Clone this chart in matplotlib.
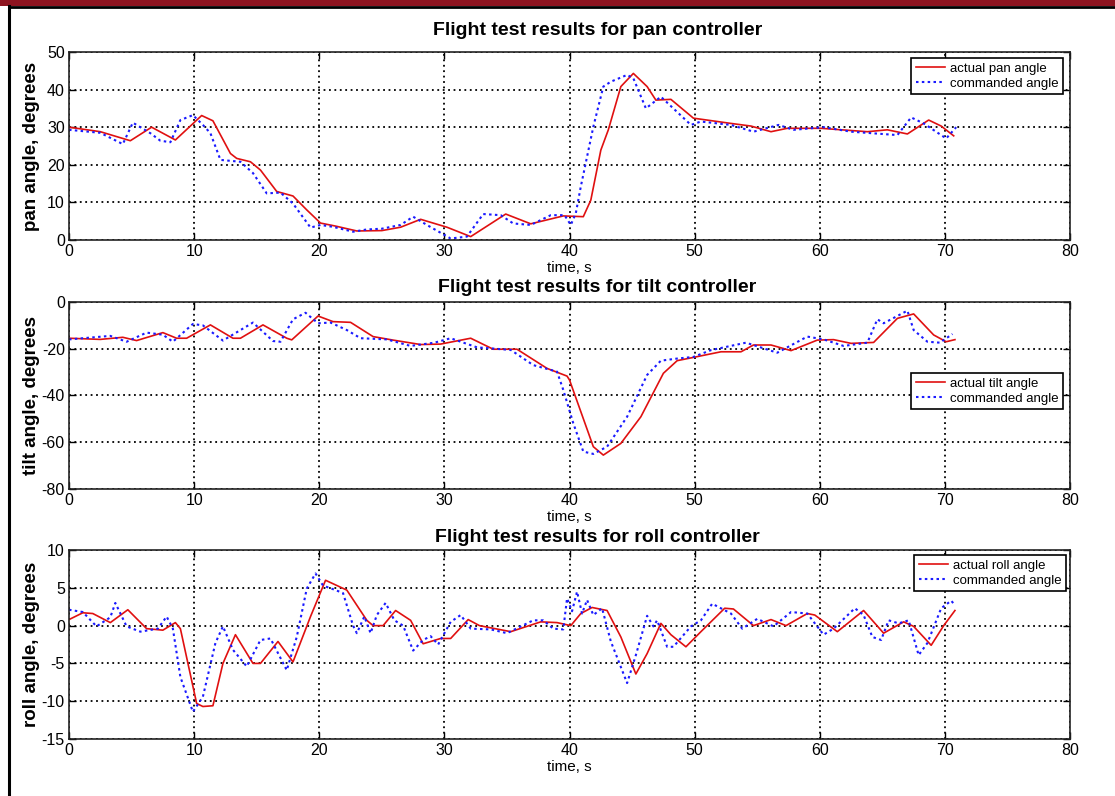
import numpy as np
import matplotlib
matplotlib.use("Agg")
import matplotlib.pyplot as plt
from matplotlib.lines import Line2D
from matplotlib.patches import Rectangle

plt.rcParams["font.family"] = ["Liberation Sans", "DejaVu Sans"]
plt.rcParams["axes.unicode_minus"] = False

# pan controller (time in s, angle in degrees)
pan_act_t = [0, 2.5, 4.9, 6.6, 8.5, 10.6, 11.5, 12.9, 13.4, 14.5, 15.3, 16.6, 17.9,
             19.0, 20.1, 21.3, 23.0, 25.0, 26.5, 28.1, 30.2, 32.1, 34.9, 36.9, 39.5,
             41.1, 41.7, 42.5, 43.1, 44.1, 45.1, 46.2, 46.9, 48.1, 49.9, 52.9, 54.5,
             56.1, 57.4, 60.1, 63.8, 65.4, 67.0, 68.7, 69.7, 70.7]
pan_act = [30, 28.8, 26.4, 30, 26.6, 33.1, 31.7, 23, 21.7, 20.8, 18.6, 12.9, 11.7,
           8, 4.5, 3.7, 2.4, 2.5, 3.4, 5.5, 3.4, 0.9, 6.9, 4.3, 6.4,
           6.2, 10.6, 23.9, 29.3, 40.8, 44.3, 40.8, 37.2, 37.4, 32.4, 31.0, 30.3,
           28.8, 29.7, 29.7, 28.8, 29.3, 28.2, 31.9, 30.3, 27.7]
pan_cmd_t = [0, 2.5, 4.3, 5.1, 6.5, 7.3, 8.1, 8.9, 9.9, 10.7, 11.3, 12.1, 13.7, 14.7,
             15.8, 16.9, 17.9, 19.3, 20.1, 21.1, 22.7, 23.8, 25.0, 26.5, 27.5, 28.6,
             30.5, 31.8, 33.1, 34.5, 35.5, 36.9, 38.5, 39.6, 40.1, 40.5, 40.9, 41.9,
             42.7, 43.3, 44.6, 45.1, 46.1, 47.3, 49.7, 50.5, 52.9, 54.7, 56.7, 57.9,
             60.3, 62.5, 66.2, 67.3, 68.3, 70.1, 70.9]
pan_cmd = [29.3, 28.5, 25.5, 31.2, 28.4, 26.4, 26.0, 31.9, 33.2, 30.6, 28.4, 21.3, 20.8,
           17.8, 12.4, 12.6, 9.7, 3.3, 4.0, 3.5, 2.2, 2.8, 3.0, 4.0, 6.2, 4.0,
           0.4, 0.9, 6.9, 6.6, 4.4, 4.0, 6.6, 6.6, 4.0, 7.1, 14.2, 30.1,
           40.8, 42.1, 43.9, 43.0, 35.0, 38.1, 30.6, 31.5, 30.6, 28.8, 30.6, 29.3,
           30.0, 28.8, 27.9, 32.6, 31.0, 27.0, 30.0]

# tilt controller
tilt_act_t = [0, 2.5, 4.3, 5.4, 7.5, 8.6, 9.4, 11.3, 13.1, 13.7, 15.5, 17.4, 17.8,
              19.9, 21.1, 22.5, 24.3, 25.9, 28.1, 29.7, 32.1, 33.9, 35.8, 38.2, 39.8,
              40.0, 41.9, 42.7, 44.1, 45.7, 47.5, 48.6, 49.9, 52.1, 53.7, 54.7, 56.1,
              57.7, 59.8, 61.1, 62.5, 64.3, 66.2, 67.5, 69.1, 70.1, 70.8]
tilt_act = [-15.5, -16.0, -15.1, -16.5, -13.1, -15.5, -15.5, -9.8, -15.5, -15.5, -9.8,
            -15.5, -16.2, -6.0, -8.4, -8.7, -14.8, -16.3, -18.2, -18.0, -15.5, -20.2,
            -20.2, -28.4, -31.7, -33.4, -61.9, -65.5, -60.5, -49.1, -30.5, -25.1,
            -23.7, -21.3, -21.3, -18.4, -18.4, -20.8, -16.3, -16.1, -17.7, -17.3,
            -7.0, -5.1, -14.1, -17.0, -16.1]
tilt_cmd_t = [0, 3.3, 4.6, 6.2, 7.5, 8.3, 9.9, 10.7, 12.3, 14.7, 16.3, 16.9, 17.9,
              18.9, 19.9, 20.9, 22.2, 23.3, 25.4, 27.3, 29.2, 30.5, 32.6, 35.3, 37.1,
              39.0, 39.5, 40.3, 41.1, 41.9, 43.0, 44.6, 46.2, 47.3, 48.6, 49.9, 51.3,
              54.1, 56.6, 59.0, 60.3, 61.9, 63.8, 64.6, 65.1, 67.0, 67.5, 68.6, 69.6,
              70.6]
tilt_cmd = [-16.0, -14.5, -17.0, -13.1, -14.0, -17.0, -9.4, -10.0, -16.5, -8.8, -16.7,
            -17.0, -7.4, -4.6, -9.1, -8.8, -12.0, -15.5, -16.0, -18.8, -17.4, -15.5,
            -19.4, -20.5, -27.0, -29.8, -37.6, -51.9, -64.0, -65.0, -61.9, -49.1,
            -31.2, -25.1, -24.2, -23.5, -20.6, -17.4, -21.7, -14.8, -16.0, -18.8,
            -17.4, -7.4, -9.1, -3.7, -12.0, -17.0, -17.4, -13.7]

# roll controller
roll_act_t = [0, 1.1, 1.9, 3.3, 4.7, 6.2, 7.5, 8.5, 8.9, 10.2, 10.7, 11.5, 12.3, 13.3,
              14.7, 15.3, 16.7, 17.9, 19.3, 20.5, 22.2, 23.8, 24.3, 25.1, 26.1, 27.3,
              28.3, 29.7, 30.5, 31.9, 32.8, 35.3, 37.7, 39.0, 40.1, 40.9, 41.8, 43.0,
              44.1, 45.3, 46.2, 47.3, 48.1, 49.3, 50.5, 52.4, 53.1, 54.7, 56.1, 57.3,
              59.0, 59.6, 61.4, 63.5, 65.1, 66.7, 67.5, 68.9, 69.9, 70.8]
roll_act = [0.8, 1.7, 1.6, 0.4, 2.1, -0.4, -0.6, 0.4, -0.4, -10.3, -10.7, -10.6, -5.0,
            -1.2, -5.0, -5.0, -2.1, -4.8, 1.2, 6.0, 4.7, 0.7, 0.0, 0.0, 2.0, 0.7,
            -2.4, -1.7, -1.7, 0.8, 0.0, -0.8, 0.5, 0.4, 0.0, 1.6, 2.4, 2.0,
            -1.5, -6.4, -3.7, 0.3, -1.2, -2.8, -0.8, 2.3, 2.2, 0.0, 0.8, 0.0,
            1.6, 1.4, -0.8, 2.0, -1.0, 0.5, -0.1, -2.6, 0.0, 2.0]
roll_cmd_t = [0, 1.1, 2.2, 3.3, 3.7, 4.6, 5.7, 7.1, 7.8, 8.3, 8.9, 9.9, 10.7, 11.7,
              12.3, 13.1, 14.2, 15.3, 16.1, 17.4, 18.2, 19.0, 19.7, 20.3, 21.3, 21.9,
              22.7, 23.0, 23.6, 24.1, 24.6, 25.3, 26.0, 26.7, 27.5, 28.3, 28.9, 29.5,
              30.5, 31.3, 32.1, 33.7, 35.0, 37.1, 37.9, 38.7, 39.5, 39.8, 40.2, 40.6,
              41.0, 41.4, 41.9, 42.6, 43.3, 43.8, 44.6, 45.3, 46.2, 46.7, 47.0, 47.8,
              48.3, 49.7, 50.5, 51.4, 52.9, 53.8, 55.0, 56.3, 57.7, 59.0, 60.3, 61.1,
              62.8, 63.5, 64.2, 64.9, 65.5, 66.3, 67.1, 67.9, 68.6, 69.7, 70.5, 70.8]
roll_cmd = [2.1, 1.8, -0.1, 1.1, 3.0, -0.1, -0.8, -0.4, 1.2, -0.4, -6.8, -11.4, -9.4,
            -2.3, -0.1, -3.2, -5.4, -1.9, -1.7, -5.9, -1.5, 4.9, 6.9, 5.3, 4.7, 4.3,
            0.0, -1.0, 1.2, -1.0, 1.4, 3.0, 0.7, 0.0, -3.3, -1.9, -1.4, -2.5,
            0.5, 1.4, -0.4, -0.5, -1.0, 0.7, 0.7, -0.4, -0.5, 3.6, 1.9, 4.5,
            1.6, 3.4, 1.4, 2.3, -2.1, -4.2, -7.6, -3.9, 1.3, -0.1, 0.7, -2.8,
            -2.8, -0.1, 0.7, 2.9, 1.6, -0.4, 0.9, -0.1, 1.8, 1.6, -1.2, -0.4,
            2.3, 1.4, -1.5, -1.9, 0.7, 0.3, 0.7, -3.9, -2.3, 2.3, 3.3, 2.7]

x_ticks = np.arange(0, 81, 10)

# title, y label, legend label, data, y range, y ticks,
# [axes bottom, height], legend corner, title height above the axes
panels = [
    ("Flight test results for pan controller", "pan angle, degrees", "actual pan angle",
     pan_act_t, pan_act, pan_cmd_t, pan_cmd, (0, 50), np.arange(0, 51, 10),
     [0.6985, 0.2362], (0.993, 0.968), 1.115),
    ("Flight test results for tilt controller", "tilt angle, degrees", "actual tilt angle",
     tilt_act_t, tilt_act, tilt_cmd_t, tilt_cmd, (-80, 0), np.arange(-80, 1, 20),
     [0.3857, 0.2349], (0.993, 0.620), 1.078),
    ("Flight test results for roll controller", "roll angle, degrees", "actual roll angle",
     roll_act_t, roll_act, roll_cmd_t, roll_cmd, (-15, 10), np.arange(-15, 11, 5),
     [0.0716, 0.2374], (0.996, 0.974), 1.068),
]

fig = plt.figure(figsize=(11.15, 7.96), dpi=100)

# page decoration: dark red band on top, black rule on the left
fig.patches.append(Rectangle((0, 1 - 6 / 796), 1, 6 / 796, transform=fig.transFigure,
                             facecolor="#8e1420", edgecolor="none"))
fig.lines.append(Line2D([8.5 / 1115, 1], [1 - 6.5 / 796, 1 - 6.5 / 796],
                        transform=fig.transFigure, color="black", lw=2))
fig.lines.append(Line2D([9 / 1115, 9 / 1115], [0, 1 - 6 / 796],
                        transform=fig.transFigure, color="black", lw=2.2))

for (title, ylabel, act_label, at, ay, ct, cy, ylim, yticks, (bot, h), leg_pos,
     title_y) in panels:
    ax = fig.add_axes([0.0619, bot, 0.8978, h])
    ax.plot(at, ay, color="#e01010", lw=1.2, label=act_label)
    ax.plot(ct, cy, color="#1a1aff", lw=1.5, ls=(0, (1.2, 1.6)), label="commanded angle")
    ax.set_xlim(0, 80)
    ax.set_ylim(*ylim)
    ax.set_xticks(x_ticks)
    ax.set_yticks(yticks)
    ax.grid(True, color="black", ls=(0, (1, 2)), lw=1.3)
    ax.tick_params(direction="in", top=True, right=True, length=5, width=1,
                   labelsize=11.5, pad=3)
    for s in ax.spines.values():
        s.set_linewidth(1.2)
        s.set_color("#222222")
    ax.set_xlabel("time, s", fontsize=11, labelpad=1.5)
    ax.set_ylabel(ylabel, fontsize=13.5, fontweight="bold", va="center")
    ax.yaxis.set_label_coords(-0.037, 0.5)
    ax.text(0.528, title_y, title, transform=ax.transAxes, ha="center", va="center",
            fontsize=14, fontweight="bold")
    leg = ax.legend(loc="upper right", bbox_to_anchor=leg_pos, borderaxespad=0,
                    fontsize=9.5, fancybox=False, edgecolor="black", framealpha=1,
                    handlelength=2.2, handletextpad=0.4, labelspacing=0.2,
                    borderpad=0.35, shadow=False)
    leg.get_frame().set_linewidth(1.2)

fig.savefig("out.png", dpi=100)
